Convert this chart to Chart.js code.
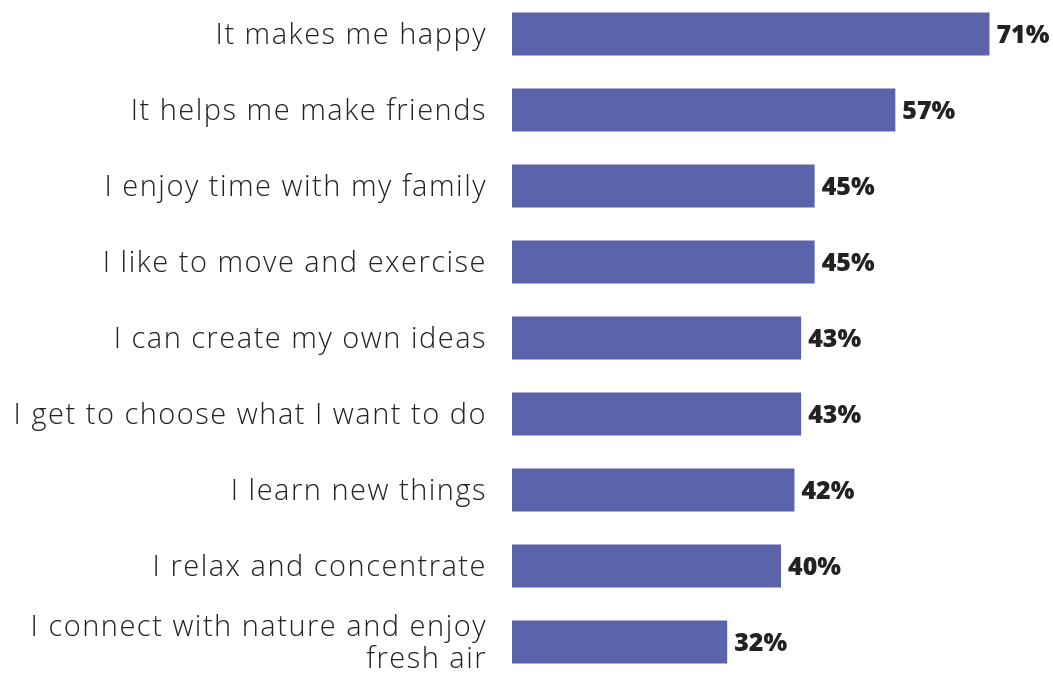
<!DOCTYPE html>
<html>
<head>
<meta charset="utf-8">
<script src="https://cdn.jsdelivr.net/npm/chart.js@4"></script>
<style>
  html, body { margin: 0; padding: 0; background: #ffffff; overflow: hidden; }
  #wrap { position: absolute; left: 0; top: -4px; width: 1053px; height: 684px; }
</style>
</head>
<body>
<div id="wrap"><canvas id="reasonsChart"></canvas></div>
<script>
// --- data ---
const reasons = [
    'It makes me happy',
    'It helps me make friends',
    'I enjoy time with my family',
    'I like to move and exercise',
    'I can create my own ideas',
    'I get to choose what I want to do',
    'I learn new things',
    'I relax and concentrate',
    ['I connect with nature and enjoy', 'fresh air']
];
const shares = [71, 57, 45, 45, 43, 43, 42, 40, 32];

const BAR_COLOR = '#5b63ab';
const TEXT_COLOR = '#222222';
const FONT = '"Open Sans", "DejaVu Sans", sans-serif';

// the reference font is wider than Open Sans, so loosen the tick labels a bit
const letterSpacing = {
    id: 'letterSpacing',
    beforeDraw(chart) { chart.ctx.letterSpacing = '1.5px'; },
    afterDraw(chart) { chart.ctx.letterSpacing = '0px'; }
};

// draws the bold "71%" style labels at the end of each bar
const valueLabels = {
    id: 'valueLabels',
    afterDatasetsDraw(chart) {
        const ctx = chart.ctx;
        const meta = chart.getDatasetMeta(0);
        ctx.save();
        ctx.letterSpacing = '0px';
        ctx.font = '800 25px ' + FONT;
        ctx.fillStyle = TEXT_COLOR;
        ctx.textAlign = 'left';
        ctx.textBaseline = 'middle';
        meta.data.forEach((bar, i) => {
            ctx.fillText(shares[i] + '%', bar.x + 7, bar.y + 2);
        });
        ctx.restore();
    }
};

const ctxReasons = document.getElementById('reasonsChart').getContext('2d');
const reasonsChart = new Chart(ctxReasons, {
    type: 'bar',
    data: {
        labels: reasons,
        datasets: [{
            data: shares,
            backgroundColor: BAR_COLOR,
            borderWidth: 0,
            barPercentage: 0.566,
            categoryPercentage: 1
        }]
    },
    options: {
        indexAxis: 'y',
        responsive: true,
        maintainAspectRatio: false,
        animation: false,
        layout: { padding: { left: 0, right: 3, top: 0, bottom: 0 } },
        plugins: {
            legend: { display: false },
            tooltip: { enabled: false }
        },
        scales: {
            x: { display: false, min: 0, max: 80 },
            y: {
                grid: { display: false, drawTicks: false },
                border: { display: false },
                afterFit(scale) {
                    scale.width = 512;
                    scale.paddingTop = 0;
                    scale.paddingBottom = 0;
                },
                ticks: {
                    padding: 25,
                    labelOffset: 2,
                    color: TEXT_COLOR,
                    font: { family: FONT, size: 29, weight: '300', lineHeight: 1.1 }
                }
            }
        }
    },
    plugins: [letterSpacing, valueLabels]
});
</script>
</body>
</html>
